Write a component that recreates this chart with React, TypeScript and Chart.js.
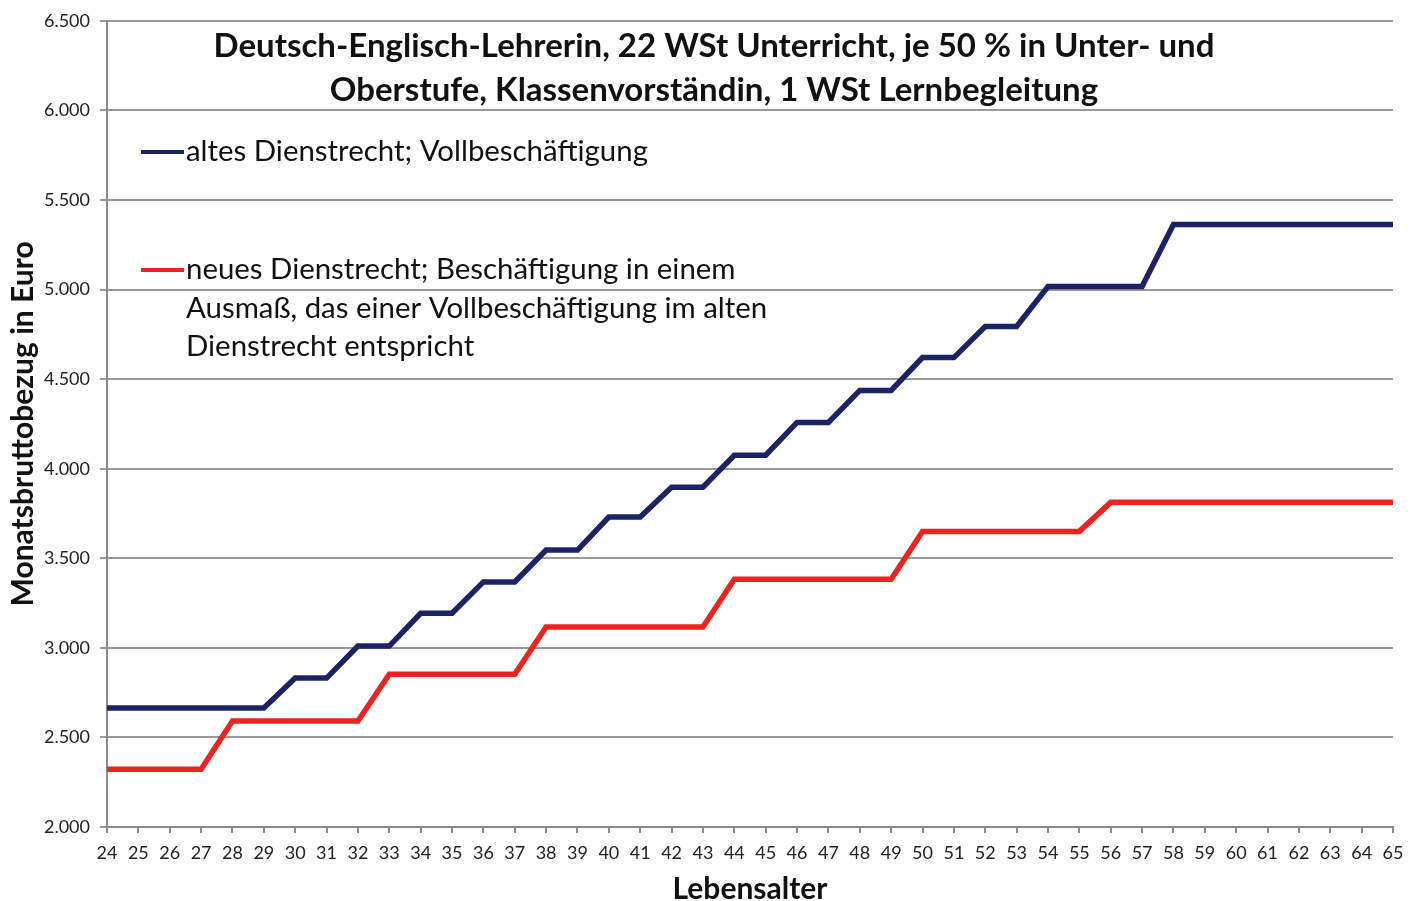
import React, { useEffect, useRef } from "react";
import { Chart, registerables } from "chart.js";

Chart.register(...registerables);

const ages: string[] = [
  "24","25","26","27","28","29","30","31","32","33","34","35","36","37","38","39","40","41","42","43","44",
  "45","46","47","48","49","50","51","52","53","54","55","56","57","58","59","60","61","62","63","64","65",
];

const altesDienstrecht: number[] = [
  2664, 2664, 2664, 2664, 2664, 2664, // 24-29
  2831, 2831, // 30-31
  3010, 3010, // 32-33
  3193, 3193, // 34-35
  3368, 3368, // 36-37
  3546, 3546, // 38-39
  3730, 3730, // 40-41
  3897, 3897, // 42-43
  4075, 4075, // 44-45
  4258, 4258, // 46-47
  4437, 4437, // 48-49
  4620, 4620, // 50-51
  4794, 4794, // 52-53
  5017, 5017, 5017, 5017, // 54-57
  5363, 5363, 5363, 5363, 5363, 5363, 5363, 5363, // 58-65
];

const neuesDienstrecht: number[] = [
  2323, 2323, 2323, 2323, // 24-27
  2591, 2591, 2591, 2591, 2591, // 28-32
  2853, 2853, 2853, 2853, 2853, // 33-37
  3116, 3116, 3116, 3116, 3116, 3116, // 38-43
  3383, 3383, 3383, 3383, 3383, 3383, // 44-49
  3650, 3650, 3650, 3650, 3650, 3650, // 50-55
  3812, 3812, 3812, 3812, 3812, 3812, 3812, 3812, 3812, 3812, // 56-65
];

const titleLines: string[] = [
  "Deutsch-Englisch-Lehrerin, 22 WSt Unterricht, je 50 % in Unter- und",
  "Oberstufe, Klassenvorständin, 1 WSt Lernbegleitung",
];
const legendBlue: string[] = ["altes Dienstrecht; Vollbeschäftigung"];
const legendRed: string[] = [
  "neues Dienstrecht; Beschäftigung in einem",
  "Ausmaß, das einer Vollbeschäftigung im alten",
  "Dienstrecht entspricht",
];

const BLUE = "#1b2366";
const RED = "#ee2320";
const FONT = "Lato, 'Open Sans', sans-serif";

const overlayPlugin = {
  id: "overlay",
  afterDraw(chart: any) {
    const ctx = chart.ctx as CanvasRenderingContext2D;
    ctx.save();
    ctx.fillStyle = "#111";
    ctx.textBaseline = "middle";
    ctx.textAlign = "center";
    ctx.font = `bold 33px ${FONT}`;
    ctx.fillText(titleLines[0], 714, 46);
    ctx.fillText(titleLines[1], 714, 90);

    ctx.textAlign = "left";
    ctx.font = `29.4px ${FONT}`;
    ctx.lineWidth = 4;
    ctx.strokeStyle = BLUE;
    ctx.beginPath();
    ctx.moveTo(141, 152);
    ctx.lineTo(184, 152);
    ctx.stroke();
    ctx.fillText(legendBlue[0], 186, 152);

    ctx.strokeStyle = RED;
    ctx.beginPath();
    ctx.moveTo(141, 270);
    ctx.lineTo(184, 270);
    ctx.stroke();
    const ys = [270, 309, 347];
    legendRed.forEach((t, i) => ctx.fillText(t, 186, ys[i]));
    ctx.restore();
  },
};

export default function App() {
  const ref = useRef<HTMLCanvasElement | null>(null);
  useEffect(() => {
    document.body.style.margin = "0";
    const canvas = ref.current!;
    const chart = new Chart(canvas, {
      type: "line",
      data: {
        labels: ages,
        datasets: [
          {
            label: "altes Dienstrecht; Vollbeschäftigung",
            data: altesDienstrecht,
            borderColor: BLUE,
            backgroundColor: BLUE,
            borderWidth: 5.5,
            pointRadius: 0,
            tension: 0,
            borderJoinStyle: "miter",
          },
          {
            label: "neues Dienstrecht",
            data: neuesDienstrecht,
            borderColor: RED,
            backgroundColor: RED,
            borderWidth: 5.5,
            pointRadius: 0,
            tension: 0,
            borderJoinStyle: "miter",
          },
        ],
      },
      options: {
        responsive: false,
        animation: false,
        layout: { padding: { top: 20, right: 24, left: 0, bottom: 0 } },
        plugins: {
          legend: { display: false },
          tooltip: { enabled: false },
          title: { display: false },
        },
        scales: {
          x: {
            offset: false,
            grid: {
              drawOnChartArea: false,
              drawTicks: true,
              tickLength: 6,
              color: "#8a8a8a",
              lineWidth: 2,
            },
            border: { color: "#8a8a8a", width: 2 },
            ticks: {
              color: "#222",
              font: { family: FONT, size: 18 },
              maxRotation: 0,
              autoSkip: false,
              padding: 9,
            },
            title: {
              display: true,
              text: "Lebensalter",
              color: "#111",
              font: { family: FONT, size: 30, weight: "bold" },
              padding: { top: 9, bottom: -6 },
            },
            afterFit(scale: any) {
              scale.height = 74;
            },
          },
          y: {
            min: 2000,
            max: 6500,
            ticks: {
              stepSize: 500,
              color: "#222",
              font: { family: FONT, size: 18 },
              padding: 10,
              callback: (v: any) => Number(v).toLocaleString("de-DE"),
            },
            grid: {
              color: "#9a9a9a",
              lineWidth: 2,
              tickLength: 7,
            },
            border: { color: "#8a8a8a", width: 2 },
            title: {
              display: true,
              text: "Monatsbruttobezug in Euro",
              color: "#111",
              font: { family: FONT, size: 30, weight: "bold" },
              padding: { top: 5, bottom: 2 },
            },
            afterFit(scale: any) {
              scale.width = 107;
            },
          },
        },
      },
      plugins: [overlayPlugin],
    } as any);
    return () => chart.destroy();
  }, []);
  return (
    <div style={{ width: 1417, height: 901, background: "#fff" }}>
      <canvas ref={ref} width={1417} height={901} style={{ display: "block" }} />
    </div>
  );
}
